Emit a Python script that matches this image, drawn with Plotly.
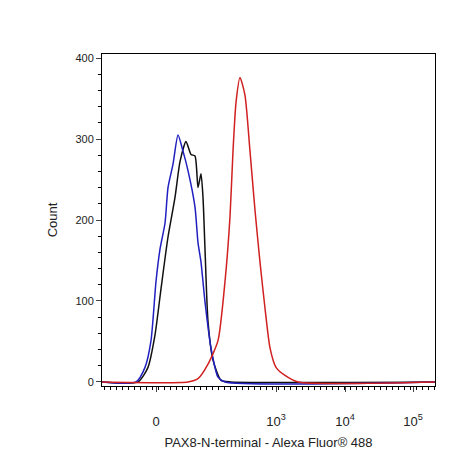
import plotly.graph_objects as go

# x is the display position on the biexponential axis (channel units)
blue_x = [94, 128, 137, 143, 148, 152, 157, 160, 165, 170, 175, 180, 187, 190, 193, 197, 203, 210, 217, 427]
blue_y = [0, 0, 18, 51, 124, 164, 196, 240, 269, 305, 285, 261, 216, 172, 148, 99, 42, 6, 0, 0]

black_x = [94, 130, 140, 147, 153, 160, 167, 172, 178, 183, 187, 190, 193, 195, 197, 200, 205, 213, 223, 427]
black_y = [0, 0, 18, 58, 115, 179, 228, 272, 297, 281, 279, 240, 257, 228, 164, 75, 27, 2, 0, 0]

red_x = [94, 180, 190, 200, 210, 217, 222, 225, 228, 232, 237, 242, 247, 252, 257, 262, 268, 277, 290, 427]
red_y = [0, 0, 4, 22, 51, 124, 204, 285, 345, 376, 354, 285, 212, 148, 91, 42, 18, 8, 0, 0]

tick_pos = [148, 268, 337, 405]
tick_text = ['0', '10<sup>3</sup>', '10<sup>4</sup>', '10<sup>5</sup>']

fig = go.Figure()
for xs, ys, col in [(black_x, black_y, '#111111'), (blue_x, blue_y, '#2020c0'), (red_x, red_y, '#d02020')]:
    fig.add_trace(go.Scatter(x=xs, y=ys, mode='lines', line=dict(color=col, width=1.5, shape='spline', smoothing=0.6)))

fig.update_layout(
    width=468, height=468,
    margin=dict(l=94, r=41, t=46, b=90, autoexpand=False),
    plot_bgcolor='white', paper_bgcolor='white',
    showlegend=False,
    font=dict(family='Liberation Sans, Arial', size=12, color='#222'),
)
fig.update_xaxes(range=[94, 427], tickvals=tick_pos, ticktext=tick_text, ticks='outside', ticklen=5,
                 showgrid=False, zeroline=False, showline=True, linecolor='black', mirror=True,
                 minor=dict(ticks='outside', ticklen=3, dtick=6, tickcolor='black'),
                 tickfont=dict(size=13), ticklabelstandoff=18, automargin=False,
                 title=dict(text='PAX8-N-terminal - Alexa Fluor® 488', standoff=10, font=dict(size=13)))
fig.update_yaxes(range=[-5, 405], tickvals=[0, 100, 200, 300, 400], ticks='outside', ticklen=5,
                 showgrid=False, zeroline=False, showline=True, linecolor='black', mirror=True,
                 minor=dict(ticks='outside', ticklen=3, dtick=20, tickcolor='black'),
                 tickfont=dict(size=11), automargin=False,
                 title=dict(text='Count', font=dict(size=13), standoff=14))

fig.write_html('out.html')
